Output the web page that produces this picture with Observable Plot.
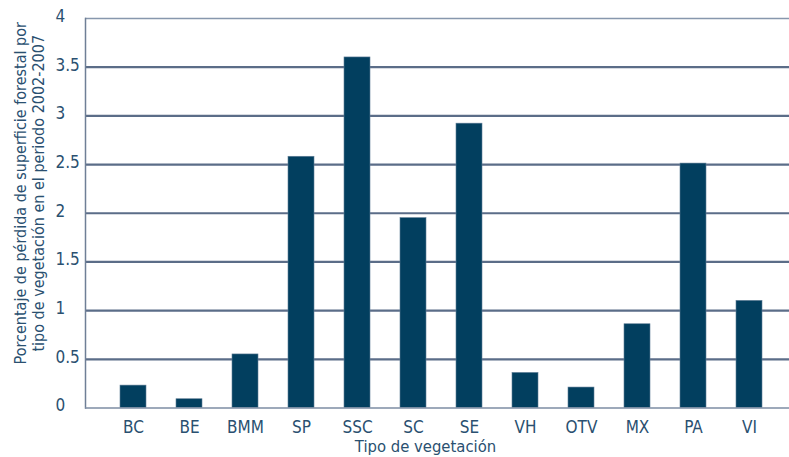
<!DOCTYPE html>
<html>
<head>
<meta charset="utf-8">
<script src="https://cdn.jsdelivr.net/npm/d3@7"></script>
<script src="https://cdn.jsdelivr.net/npm/@observablehq/plot@0.6"></script>
<style>
  html, body { margin: 0; padding: 0; background: #fff; }
  #chart svg { display: block; }
</style>
</head>
<body>
<div id="chart"></div>
<script>
const categories = ["BC", "BE", "BMM", "SP", "SSC", "SC", "SE", "VH", "OTV", "MX", "PA", "VI"];
const values = [0.23, 0.09, 0.55, 2.58, 3.6, 1.95, 2.92, 0.36, 0.21, 0.86, 2.51, 1.1];
const yTicks = [0, 0.5, 1, 1.5, 2, 2.5, 3, 3.5, 4];
const yTitle = "Porcentaje de pérdida de superficie forestal por\ntipo de vegetación en el periodo 2002-2007";
const xTitle = "Tipo de vegetación";

const data = categories.map((c, i) => ({ cat: c, value: values[i] }));
const font = "'Liberation Sans Narrow', 'Arial Narrow', 'DejaVu Sans Condensed', sans-serif";
const textColor = "#2a5070";

const chart = Plot.plot({
  width: 789,
  height: 457,
  marginLeft: 85,
  marginRight: 0,
  marginTop: 18,
  marginBottom: 49.5,
  style: { fontFamily: font, fontSize: "17px", color: textColor, background: "#fff" },
  x: { domain: categories, paddingInner: 0.536, paddingOuter: 0.553, align: 0.56, label: null },
  y: { domain: [0, 4], label: null },
  marks: [
    Plot.ruleY(yTicks.filter(d => d > 0 && d < 4), { stroke: "#5b6d88", strokeWidth: 2.2 }),
    Plot.ruleY([4], { stroke: "#8797ad", strokeWidth: 1.5 }),
    Plot.frame({ anchor: "left", stroke: "#6f7f96", strokeWidth: 1.5 }),
    Plot.barY(data, { x: "cat", y: "value", fill: "#023f5f", stroke: "#5f7d96", strokeWidth: 0.6 }),
    Plot.ruleY([0], { stroke: "#7d8da3", strokeWidth: 1.5 }),
    Plot.axisY({ ticks: yTicks, tickFormat: d => String(d), tickSize: 0, tickPadding: 0, textAnchor: "start", dx: -30, dy: -2, fill: textColor, fontSize: 17, label: null }),
    Plot.axisX({ tickSize: 0, tickPadding: 12.5, fill: textColor, fontSize: 17, label: null }),
    Plot.text([xTitle], { frameAnchor: "bottom", lineAnchor: "top", dy: 32.5, dx: -12, fill: textColor, fontSize: 16.5 }),
    Plot.text([yTitle], { frameAnchor: "left", rotate: -90, lineAnchor: "top", textAnchor: "middle", dx: -72, dy: -20, fill: textColor, fontSize: 16, lineHeight: 1.1 })
  ]
});
document.getElementById("chart").appendChild(chart);
</script>
</body>
</html>
